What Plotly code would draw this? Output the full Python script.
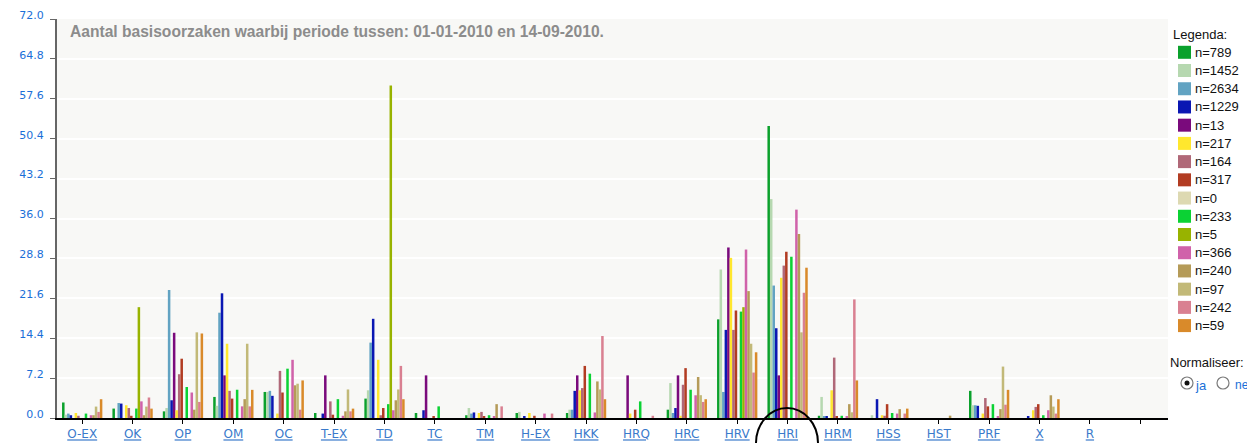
import plotly.graph_objects as go

# ---------------- data ----------------
categories = ["O-EX", "OK", "OP", "OM", "OC", "T-EX", "TD", "TC", "TM", "H-EX",
              "HKK", "HRQ", "HRC", "HRV", "HRI", "HRM", "HSS", "HST", "PRF", "X", "R"]
extra_tick = [""]  # empty tick after R

series_labels = ["n=789", "n=1452", "n=2634", "n=1229", "n=13", "n=217", "n=164", "n=317",
                 "n=0", "n=233", "n=5", "n=366", "n=240", "n=97", "n=242", "n=59"]
series_colors = ["#0ba12c", "#b6d8b0", "#62a3c2", "#0a17b3", "#7a0a7c", "#ffe72e",
                 "#b06878", "#b23c22", "#ddd9b2", "#0bd234", "#98b300", "#d062aa",
                 "#b59b58", "#c2b978", "#d98091", "#d98a2a"]

# values (%) per category, one entry per series (legend order)
v_OEX = [2.8, 0.6, 0.8, 0.5, 0, 0.9, 0.4, 0, 0, 0.8, 0, 0.5, 0.5, 2.06, 1.1, 3.39]
v_OK = [1.7, 0, 2.7, 2.6, 0, 2.3, 1.8, 0.4, 0, 1.7, 20.0, 3.0, 0.5, 2.06, 3.7, 1.69]
v_OP = [1.2, 1.8, 23.1, 3.2, 15.38, 1.4, 7.9, 10.7, 0, 5.6, 0, 4.6, 1.5, 15.46, 2.9, 15.25]
v_OM = [3.8, 2.2, 19.0, 22.5, 7.69, 13.4, 4.9, 3.5, 0, 5.1, 0, 2.1, 3.4, 13.4, 2.1, 5.08]
v_OC = [4.7, 4.7, 4.9, 4.0, 0, 0.8, 8.5, 4.6, 0, 8.9, 0, 10.5, 5.9, 6.19, 1.5, 6.78]
v_TEX = [0.9, 0, 0, 0.8, 7.69, 0, 3.0, 0.6, 0, 3.4, 0, 0.4, 1.2, 5.15, 1.2, 1.69]
v_TD = [3.5, 5.0, 13.6, 17.9, 0, 10.5, 0.5, 1.8, 0, 2.5, 60.0, 1.4, 3.2, 5.15, 9.4, 3.39]
v_TC = [0.9, 0, 0, 1.4, 7.69, 0, 0, 0.3, 0, 2.1, 0, 0, 0, 0, 0, 0]
v_TM = [0.5, 1.8, 0.8, 1.0, 0, 0.9, 1.1, 0.3, 0, 0.5, 0, 0.3, 2.5, 0, 2.1, 0]
v_HEX = [0.9, 1.1, 0, 0.3, 0, 0.9, 0, 0.4, 0, 0, 0, 0.8, 0, 0, 0.8, 0]
v_HKK = [0.9, 1.5, 1.5, 4.9, 7.69, 5.0, 5.4, 9.4, 0, 8.0, 0, 1.0, 6.6, 5.15, 14.8, 3.39]
v_HRQ = [0, 0, 0, 0, 7.69, 0.8, 0, 1.5, 0, 3.0, 0, 0, 0, 0, 0.4, 0]
v_HRC = [1.5, 6.3, 0.9, 1.8, 7.69, 0.4, 6.0, 9.0, 0, 5.1, 0, 4.1, 7.4, 4.12, 2.9, 3.39]
v_HRV = [17.8, 26.8, 4.7, 15.9, 30.77, 28.9, 15.9, 19.4, 0, 19.2, 20.0, 30.4, 22.9, 13.4, 8.2, 11.86]
v_HRI = [52.7, 39.5, 23.9, 16.2, 7.69, 25.3, 27.5, 30.0, 0, 29.1, 0, 37.6, 33.2, 15.46, 22.6, 27.12]
v_HRM = [0.4, 3.8, 0.3, 0.25, 0, 5.0, 10.9, 0.2, 0, 0.4, 0, 0.3, 2.5, 1.03, 21.4, 6.78]
v_HSS = [0, 0.5, 0, 3.4, 0, 0.5, 0.4, 2.5, 0, 0.9, 0, 0.8, 1.6, 0, 0.8, 1.69]
v_HST = [0, 0, 0, 0, 0, 0, 0, 0, 0, 0, 0, 0, 0.42, 0, 0, 0]
v_PRF = [4.9, 2.3, 2.3, 2.2, 0, 0.8, 3.6, 2.1, 0, 2.5, 0, 0.3, 1.6, 9.28, 2.4, 5.08]
v_X = [0, 0, 0, 0.35, 0, 1.4, 2.0, 2.5, 0, 0.5, 0, 1.4, 4.1, 2.06, 0.8, 3.39]
v_R = [0, 0, 0, 0, 0, 0, 0, 0, 0, 0, 0, 0, 0, 0, 0, 0]

y_ticks = [0.0, 7.2, 14.4, 21.6, 28.8, 36.0, 43.2, 50.4, 57.6, 64.8, 72.0]

title_text = "Aantal basisoorzaken waarbij periode tussen: 01-01-2010 en 14-09-2010."

rows = [v_OEX, v_OK, v_OP, v_OM, v_OC, v_TEX, v_TD, v_TC, v_TM, v_HEX,
        v_HKK, v_HRQ, v_HRC, v_HRV, v_HRI, v_HRM, v_HSS, v_HST, v_PRF, v_X, v_R]

# ---------------- layout geometry ----------------
# the page body has an 8px margin; size the figure so it fits the 1255x443 window
OFF = 8
W, H = 1255 - OFF, 443 - OFF
ML, MR, MT, MB = 57 - OFF, 87, 19 - OFF, 25
PW, PH = W - ML - MR, H - MT - MB


def px(xp):  # window pixel -> paper x
    return (xp - OFF - ML) / PW


def py(yp):  # window pixel -> paper y
    return (OFF + H - MB - yp) / PH


fig = go.Figure()
xs = list(range(len(categories)))
for s, (lab, col) in enumerate(zip(series_labels, series_colors)):
    fig.add_trace(go.Bar(
        x=xs, y=[r[s] for r in rows], name=lab,
        marker=dict(color=col, line=dict(width=0)),
        showlegend=False,
    ))

shapes = []
annotations = []
FONT = "Liberation Sans, Arial"

# title inside plot
annotations.append(dict(xref="paper", yref="paper", x=px(68), y=py(31),
                        xanchor="left", yanchor="middle", showarrow=False,
                        text="<b>" + title_text + "</b>",
                        font=dict(family=FONT, size=15.6, color="#8c8c8c")))

# manual legend
annotations.append(dict(xref="paper", yref="paper", x=px(1171), y=py(34),
                        xanchor="left", yanchor="middle", showarrow=False,
                        text="Legenda:", font=dict(family=FONT, size=13, color="#111")))
for i, (lab, col) in enumerate(zip(series_labels, series_colors)):
    cy = 52.3 + 18.22 * i
    shapes.append(dict(type="rect", xref="paper", yref="paper",
                       x0=px(1178), x1=px(1191), y0=py(cy + 6.5), y1=py(cy - 6.5),
                       fillcolor=col, line=dict(width=0)))
    annotations.append(dict(xref="paper", yref="paper", x=px(1193), y=py(cy),
                            xanchor="left", yanchor="middle", showarrow=False,
                            text=lab, font=dict(family=FONT, size=13, color="#111")))

annotations.append(dict(xref="paper", yref="paper", x=px(1168), y=py(362),
                        xanchor="left", yanchor="middle", showarrow=False,
                        text="Normaliseer:", font=dict(family=FONT, size=13, color="#111")))
# radio buttons
for cx, checked in ((1187, True), (1223, False)):
    shapes.append(dict(type="circle", xref="paper", yref="paper",
                       x0=px(cx - 6), x1=px(cx + 6), y0=py(383 + 6), y1=py(383 - 6),
                       fillcolor="#ffffff", line=dict(color="#7a7a7a", width=1.2)))
    if checked:
        shapes.append(dict(type="circle", xref="paper", yref="paper",
                           x0=px(cx - 2.5), x1=px(cx + 2.5), y0=py(383 + 2.5), y1=py(383 - 2.5),
                           fillcolor="#111111", line=dict(width=0)))
annotations.append(dict(xref="paper", yref="paper", x=px(1193), y=py(385),
                        xanchor="left", yanchor="middle", showarrow=False,
                        text="ja", font=dict(family=FONT, size=13, color="#1a6fd8")))
annotations.append(dict(xref="paper", yref="paper", x=px(1233), y=py(385),
                        xanchor="left", yanchor="middle", showarrow=False,
                        text="nee", font=dict(family=FONT, size=12, color="#1a6fd8")))

# ellipse highlighting HRI
shapes.append(dict(type="circle", xref="paper", yref="paper",
                   x0=px(756), x1=px(818), y0=py(478), y1=py(408),
                   line=dict(color="#000000", width=2)))

tickvals = list(range(len(categories) + len(extra_tick)))
ticktext = ["<u>" + c + "</u>" for c in categories] + extra_tick

fig.update_layout(
    width=W, height=H, autosize=False,
    margin=dict(l=ML, r=MR, t=MT, b=MB, pad=0, autoexpand=False),
    paper_bgcolor="#ffffff",
    plot_bgcolor="#f8f8f6",
    barmode="group", bargap=0.2, bargroupgap=0.0,
    font=dict(family=FONT),
    shapes=shapes, annotations=annotations,
    xaxis=dict(range=[-0.5, 21.55], tickmode="array", tickvals=tickvals, ticktext=ticktext,
               automargin=False,
               showline=True, linecolor="#000000", linewidth=2,
               ticks="outside", ticklen=4, tickcolor="#000000", tickwidth=1,
               tickfont=dict(size=12, color="#3a7acb", family="DejaVu Sans, Verdana"),
               showgrid=False, zeroline=False, fixedrange=True),
    yaxis=dict(range=[0, 72], tickmode="array", tickvals=y_ticks,
               ticktext=["%.1f" % v for v in y_ticks],
               automargin=False,
               showline=True, linecolor="#666666", linewidth=2,
               ticks="outside", ticklen=5, tickcolor="#666666", tickwidth=1,
               tickfont=dict(size=11, color="#1a6fd8", family="DejaVu Sans, Verdana"),
               ticklabelshift=-4, ticklabelstandoff=4,
               showgrid=True, gridcolor="#ffffff", gridwidth=1.5,
               zeroline=False, fixedrange=True),
)

fig.write_html("out.html")
